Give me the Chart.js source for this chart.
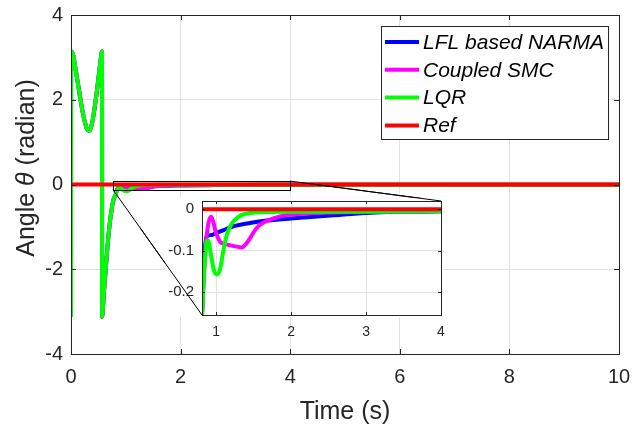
<!DOCTYPE html>
<html>
<head>
<meta charset="utf-8">
<script src="https://cdn.jsdelivr.net/npm/chart.js@4.4.0/dist/chart.umd.min.js"></script>
<style>
  html, body { margin: 0; padding: 0; background: #fff; }
  #wrap { position: relative; width: 641px; height: 425px; }
  #mainCanvas { position: absolute; left: 0; top: 0; }
  #insetCanvas { position: absolute; left: 140px; top: 185px; }
</style>
</head>
<body>
<div id="wrap">
  <canvas id="mainCanvas" width="641" height="425"></canvas>
  <canvas id="insetCanvas" width="310" height="165"></canvas>
</div>
<script>
// swing-up phase, identical for the three controllers (angle wraps at +/- pi)
var swingTime  = [0, 0.002, 0.04, 0.08, 0.13, 0.18, 0.23, 0.28, 0.31, 0.33, 0.36, 0.40, 0.45, 0.50, 0.54, 0.566, 0.568, 0.60, 0.65, 0.70, 0.75, 0.78];
var swingAngle = [-3.12, 3.14, 3.05, 2.75, 2.35, 1.95, 1.6, 1.35, 1.28, 1.27, 1.33, 1.55, 1.98, 2.5, 2.92, 3.14, -3.12, -2.55, -1.72, -1.0, -0.52, -0.34];

// stabilisation phase, one per controller
var narmaTime  = [0.81, 0.84, 0.87, 0.94, 1.0, 1.1, 1.23, 1.45, 1.68, 2.08, 2.52, 3.0, 3.4, 4.0, 6.0, 10.0];
var narmaAngle = [-0.255, -0.12, -0.066, -0.062, -0.057, -0.05, -0.041, -0.033, -0.027, -0.021, -0.015, -0.009, -0.006, -0.005, -0.004, -0.003];

var smcTime  = [0.81, 0.84, 0.87, 0.9, 0.93, 0.96, 0.99, 1.05, 1.12, 1.19, 1.27, 1.34, 1.4, 1.45, 1.5, 1.56, 1.62, 1.68, 1.76, 1.85, 1.95, 2.08, 2.3, 3.0, 4.0, 10.0];
var smcAngle = [-0.255, -0.14, -0.068, -0.03, -0.018, -0.03, -0.052, -0.078, -0.084, -0.087, -0.09, -0.092, -0.083, -0.07, -0.055, -0.041, -0.033, -0.028, -0.022, -0.017, -0.014, -0.012, -0.009, -0.006, -0.005, -0.003];

var lqrTime  = [0.81, 0.85, 0.875, 0.89, 0.93, 0.97, 1.01, 1.05, 1.1, 1.14, 1.19, 1.23, 1.3, 1.36, 1.45, 1.6, 2.0, 3.0, 4.0, 10.0];
var lqrAngle = [-0.255, -0.12, -0.075, -0.075, -0.11, -0.148, -0.157, -0.145, -0.095, -0.062, -0.04, -0.029, -0.018, -0.012, -0.009, -0.007, -0.006, -0.006, -0.005, -0.003];

var refTime  = [0, 10];
var refAngle = [0, 0];

var seriesNames  = ['LFL based NARMA', 'Coupled SMC', 'LQR', 'Ref'];
var seriesColors = ['rgb(0,0,255)', 'rgb(255,0,255)', 'rgb(0,255,0)', 'rgb(255,0,0)'];

var mainXTicks  = [0, 2, 4, 6, 8, 10];
var mainYTicks  = [-4, -2, 0, 2, 4];
var insetXTicks = [1, 2, 3, 4];
var insetYTicks = [-0.2, -0.1, 0];

// zoomed window shown by the inset
var zoomX = [0.77, 4];
var zoomY = [-0.13, 0.08];

var FONT = "'Liberation Sans', Arial, Helvetica, sans-serif";
var INK = '#262626';
var GRID = '#e2e2e2';

var chartMain = null, chartInset = null;

function toPoints(t, y) {
  return t.map(function (v, i) { return { x: v, y: y[i] }; });
}

function buildDatasets() {
  var tails = [[narmaTime, narmaAngle], [smcTime, smcAngle], [lqrTime, lqrAngle]];
  var sets = tails.map(function (tail, i) {
    return {
      label: seriesNames[i],
      data: toPoints(swingTime.concat(tail[0]), swingAngle.concat(tail[1])),
      borderColor: seriesColors[i],
      order: 3 - i
    };
  });
  sets.push({ label: seriesNames[3], data: toPoints(refTime, refAngle), borderColor: seriesColors[3], order: 0 });
  sets.forEach(function (d) {
    d.borderWidth = 4;
    d.pointRadius = 0;
    d.borderJoinStyle = 'round';
    d.cubicInterpolationMode = 'monotone';
  });
  return sets;
}

function fixedTicks(list) {
  return function (scale) { scale.ticks = list.map(function (v) { return { value: v }; }); };
}

function drawFrame(chart, len) {
  var ctx = chart.ctx, a = chart.chartArea;
  var xs = chart.scales.x, ys = chart.scales.y;
  ctx.save();
  ctx.strokeStyle = INK;
  ctx.lineWidth = 1;
  ctx.beginPath();
  xs.ticks.forEach(function (t) {
    var px = Math.round(xs.getPixelForValue(t.value)) + 0.5;
    ctx.moveTo(px, a.bottom); ctx.lineTo(px, a.bottom - len);
    ctx.moveTo(px, a.top); ctx.lineTo(px, a.top + len);
  });
  ys.ticks.forEach(function (t) {
    var py = Math.round(ys.getPixelForValue(t.value)) + 0.5;
    ctx.moveTo(a.left, py); ctx.lineTo(a.left + len, py);
    ctx.moveTo(a.right, py); ctx.lineTo(a.right - len, py);
  });
  ctx.stroke();
  ctx.strokeRect(Math.round(a.left) + 0.5, Math.round(a.top) + 0.5, Math.round(a.right - a.left), Math.round(a.bottom - a.top));
  ctx.restore();
}

// connector lines from the zoom window to the inset, in page coordinates
function connectorLines() {
  if (!chartMain || !chartInset) return [];
  var xs = chartMain.scales.x, ys = chartMain.scales.y;
  var ia = chartInset.chartArea;
  var ox = chartInset.canvas.offsetLeft, oy = chartInset.canvas.offsetTop;
  return [
    [xs.getPixelForValue(zoomX[0]), ys.getPixelForValue(zoomY[0]), ox + ia.left, oy + ia.bottom],
    [xs.getPixelForValue(zoomX[1]), ys.getPixelForValue(zoomY[1]), ox + ia.right, oy + ia.top]
  ];
}

function strokeConnectors(ctx, dx, dy) {
  ctx.save();
  ctx.strokeStyle = '#000';
  ctx.lineWidth = 1;
  ctx.beginPath();
  connectorLines().forEach(function (l) {
    ctx.moveTo(l[0] - dx, l[1] - dy);
    ctx.lineTo(l[2] - dx, l[3] - dy);
  });
  ctx.stroke();
  ctx.restore();
}

var mainDecor = {
  id: 'mainDecor',
  afterDraw: function (chart) {
    var ctx = chart.ctx, a = chart.chartArea;
    var xs = chart.scales.x, ys = chart.scales.y;
    drawFrame(chart, 5);

    // zoom window rectangle
    var zx0 = xs.getPixelForValue(zoomX[0]), zx1 = xs.getPixelForValue(zoomX[1]);
    var zy0 = ys.getPixelForValue(zoomY[0]), zy1 = ys.getPixelForValue(zoomY[1]);
    ctx.save();
    ctx.strokeStyle = '#000';
    ctx.lineWidth = 1;
    ctx.strokeRect(Math.round(zx0) + 0.5, Math.round(zy1) + 0.5, Math.round(zx1 - zx0), Math.round(zy0 - zy1));
    ctx.restore();
    strokeConnectors(ctx, 0, 0);

    // legend
    var lx = 381, ly = 26, lw = 227, lh = 113;
    ctx.save();
    ctx.fillStyle = '#fff';
    ctx.fillRect(lx, ly, lw, lh);
    ctx.strokeStyle = INK;
    ctx.lineWidth = 1;
    ctx.strokeRect(lx + 0.5, ly + 0.5, lw, lh);
    ctx.font = 'italic 21px ' + FONT;
    ctx.textBaseline = 'middle';
    ctx.textAlign = 'left';
    seriesNames.forEach(function (name, i) {
      var ry = ly + 16 + i * 27.8;
      ctx.strokeStyle = seriesColors[i];
      ctx.lineWidth = 4;
      ctx.beginPath();
      ctx.moveTo(lx + 4, ry);
      ctx.lineTo(lx + 38, ry);
      ctx.stroke();
      ctx.fillStyle = '#000';
      ctx.fillText(name, lx + 42, ry + 1);
    });
    ctx.restore();

    // axis titles
    ctx.save();
    ctx.fillStyle = INK;
    ctx.font = '25px ' + FONT;
    ctx.textAlign = 'center';
    ctx.textBaseline = 'alphabetic';
    ctx.fillText('Time (s)', (a.left + a.right) / 2, 419);

    ctx.translate(34, 168);
    ctx.rotate(-Math.PI / 2);
    var p1 = 'Angle ', p2 = '\u03b8', p3 = ' (radian)';
    ctx.font = '25px ' + FONT;
    var w1 = ctx.measureText(p1).width, w3 = ctx.measureText(p3).width;
    ctx.font = 'italic 25px ' + FONT;
    var w2 = ctx.measureText(p2).width;
    var x0 = -(w1 + w2 + w3) / 2;
    ctx.textAlign = 'left';
    ctx.font = '25px ' + FONT;
    ctx.fillText(p1, x0, 0);
    ctx.font = 'italic 25px ' + FONT;
    ctx.fillText(p2, x0 + w1, 0);
    ctx.font = '25px ' + FONT;
    ctx.fillText(p3, x0 + w1 + w2, 0);
    ctx.restore();
  }
};

var insetDecor = {
  id: 'insetDecor',
  beforeDraw: function (chart) {
    var ctx = chart.ctx, a = chart.chartArea;
    ctx.save();
    ctx.fillStyle = '#fff';
    ctx.fillRect(a.left - 37, a.top - 3, a.right - a.left + 40, a.bottom - a.top + 5);
    ctx.restore();
  },
  afterDraw: function (chart) {
    drawFrame(chart, 3);
    var c = chart.canvas;
    strokeConnectors(chart.ctx, c.offsetLeft, c.offsetTop);
  }
};

function axisOptions(range, tickList, font, pad, fit, isX) {
  return {
    type: 'linear',
    min: range[0],
    max: range[1],
    afterBuildTicks: fixedTicks(tickList),
    afterFit: function (s) {
      if (isX) { s.height = fit; s.paddingLeft = 0; s.paddingRight = 0; }
      else { s.width = fit; s.paddingTop = 0; s.paddingBottom = 0; }
    },
    grid: { color: GRID, lineWidth: 1, drawTicks: false },
    border: { display: false },
    ticks: {
      color: INK,
      font: { family: FONT, size: font },
      padding: pad,
      maxRotation: 0,
      autoSkip: false,
      callback: function (v) { return String(Math.round(v * 1000) / 1000); }
    }
  };
}

var common = {
  responsive: false,
  animation: false,
  devicePixelRatio: 1,
  plugins: { legend: { display: false }, tooltip: { enabled: false } },
  elements: { line: { tension: 0 } }
};

chartMain = new Chart(document.getElementById('mainCanvas').getContext('2d'), {
  type: 'line',
  data: { datasets: buildDatasets() },
  options: Object.assign({}, common, {
    layout: { padding: { top: 15, right: 22, left: 0, bottom: 0 } },
    scales: {
      x: axisOptions([0, 10], mainXTicks, 20, 11, 71, true),
      y: axisOptions([-4, 4], mainYTicks, 20, 8, 71, false)
    }
  }),
  plugins: [mainDecor]
});

chartInset = new Chart(document.getElementById('insetCanvas').getContext('2d'), {
  type: 'line',
  data: { datasets: buildDatasets() },
  options: Object.assign({}, common, {
    layout: { padding: { top: 16, right: 9, left: 0, bottom: 0 } },
    scales: {
      x: axisOptions([0.81, 4], insetXTicks, 14, 9, 35, true),
      y: axisOptions([-0.255, 0.02], insetYTicks, 15, 8, 62, false)
    }
  }),
  plugins: [insetDecor]
});

chartMain.draw();
chartInset.draw();
</script>
</body>
</html>
